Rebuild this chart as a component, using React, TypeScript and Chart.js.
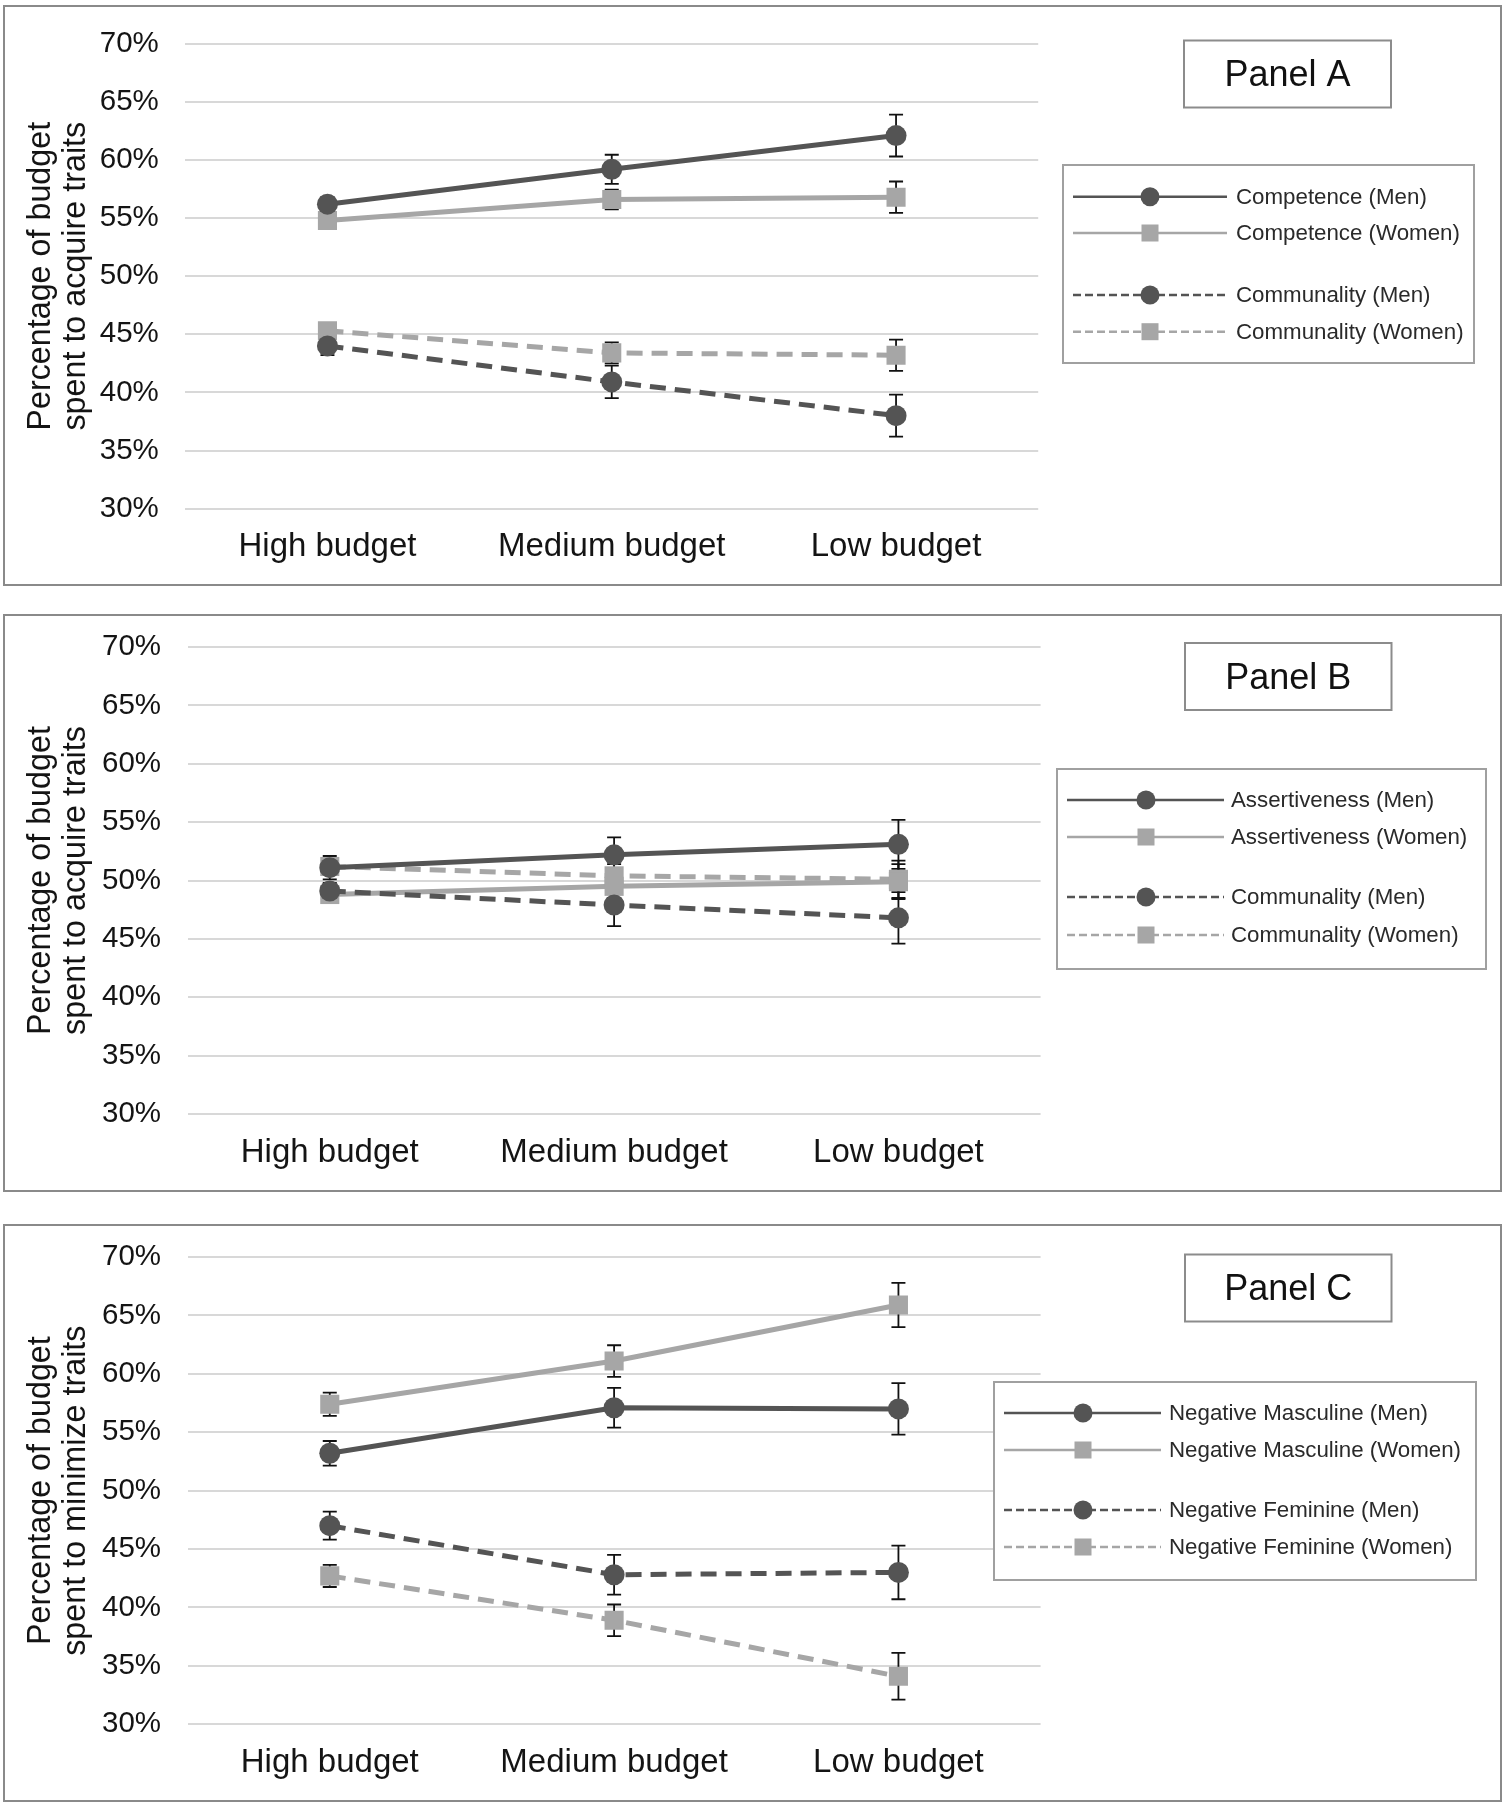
import { useEffect, useRef } from 'react';
import { Chart, registerables } from 'chart.js';

Chart.register(...registerables);

// ---------- data ----------
const categories = ['High budget', 'Medium budget', 'Low budget'];
const yMin = 30;
const yMax = 70;
const yStep = 5;

// Panel A
const panelATitle = 'Panel A';
const panelAYTitle = ['Percentage of budget', 'spent to acquire traits'];
const panelALabels = ['Competence (Men)', 'Competence (Women)', 'Communality (Men)', 'Communality (Women)'];
const competenceMen = [56.2, 59.2, 62.1];
const competenceMenErr = [0.6, 1.25, 1.8];
const competenceWomen = [54.8, 56.6, 56.8];
const competenceWomenErr = [0.5, 0.85, 1.35];
const communalityMenA = [44.0, 40.9, 38.0];
const communalityMenAErr = [0.8, 1.4, 1.8];
const communalityWomenA = [45.3, 43.4, 43.2];
const communalityWomenAErr = [0.6, 0.9, 1.35];

// Panel B
const panelBTitle = 'Panel B';
const panelBYTitle = ['Percentage of budget', 'spent to acquire traits'];
const panelBLabels = ['Assertiveness (Men)', 'Assertiveness (Women)', 'Communality (Men)', 'Communality (Women)'];
const assertivenessMen = [51.1, 52.2, 53.1];
const assertivenessMenErr = [1.0, 1.5, 2.1];
const assertivenessWomen = [48.8, 49.5, 49.9];
const assertivenessWomenErr = [0.6, 1.0, 1.5];
const communalityMenB = [49.1, 47.9, 46.8];
const communalityMenBErr = [0.7, 1.8, 2.2];
const communalityWomenB = [51.2, 50.4, 50.1];
const communalityWomenBErr = [0.6, 1.0, 1.6];

// Panel C
const panelCTitle = 'Panel C';
const panelCYTitle = ['Percentage of budget', 'spent to minimize traits'];
const panelCLabels = ['Negative Masculine (Men)', 'Negative Masculine (Women)', 'Negative Feminine (Men)', 'Negative Feminine (Women)'];
const negMascMen = [53.2, 57.1, 57.0];
const negMascMenErr = [1.05, 1.7, 2.2];
const negMascWomen = [57.4, 61.1, 65.9];
const negMascWomenErr = [1.0, 1.35, 1.9];
const negFemMen = [47.0, 42.8, 43.0];
const negFemMenErr = [1.2, 1.7, 2.3];
const negFemWomen = [42.7, 38.9, 34.1];
const negFemWomenErr = [0.95, 1.35, 2.0];

// ---------- styles ----------
const FONT = '"Liberation Sans", Arial, Helvetica, sans-serif';
const DARK = '#545454';
const LIGHT = '#a6a6a6';

type SeriesDef = { label: string; data: number[]; err: number[]; dark: boolean; dashed: boolean };

type PanelDef = {
  top: number;
  height: number;
  area: { left: number; right: number; top: number; bottom: number };
  title: string;
  yTitle: string[];
  series: SeriesDef[];
  labelBox: { x: number; y: number; w: number; h: number };
  legend: { x: number; y: number; w: number; h: number; rows: number[]; lineX0: number; lineX1: number; markX: number; textX: number };
};

const makeSeries = (labels: string[], vals: number[][], errs: number[][]): SeriesDef[] =>
  labels.map((l, i) => ({ label: l, data: vals[i], err: errs[i], dark: i % 2 === 0, dashed: i >= 2 }));

const panels: PanelDef[] = [
  {
    top: 5,
    height: 581,
    area: { left: 182.3, right: 1035.2, top: 38.8, bottom: 503.6 },
    title: panelATitle,
    yTitle: panelAYTitle,
    series: makeSeries(panelALabels, [competenceMen, competenceWomen, communalityMenA, communalityWomenA], [competenceMenErr, competenceWomenErr, communalityMenAErr, communalityWomenAErr]),
    labelBox: { x: 1181, y: 35.5, w: 207, h: 67 },
    legend: { x: 1060, y: 160, w: 411, h: 198, rows: [191.7, 228, 290, 326.7], lineX0: 1070, lineX1: 1224, markX: 1147, textX: 1233 },
  },
  {
    top: 614,
    height: 578,
    area: { left: 184.6, right: 1037.6, top: 33, bottom: 500 },
    title: panelBTitle,
    yTitle: panelBYTitle,
    series: makeSeries(panelBLabels, [assertivenessMen, assertivenessWomen, communalityMenB, communalityWomenB], [assertivenessMenErr, assertivenessWomenErr, communalityMenBErr, communalityWomenBErr]),
    labelBox: { x: 1182, y: 29, w: 206.5, h: 67 },
    legend: { x: 1054, y: 155, w: 429, h: 200, rows: [186, 223, 283, 321], lineX0: 1064, lineX1: 1221, markX: 1143, textX: 1228 },
  },
  {
    top: 1224,
    height: 578,
    area: { left: 184.6, right: 1037.6, top: 33.1, bottom: 500.2 },
    title: panelCTitle,
    yTitle: panelCYTitle,
    series: makeSeries(panelCLabels, [negMascMen, negMascWomen, negFemMen, negFemWomen], [negMascMenErr, negMascWomenErr, negFemMenErr, negFemWomenErr]),
    labelBox: { x: 1182, y: 30.5, w: 206.5, h: 67 },
    legend: { x: 991, y: 158, w: 482, h: 198, rows: [189, 226, 286, 323], lineX0: 1001, lineX1: 1158, markX: 1080, textX: 1166 },
  },
];

const PANEL_LEFT = 3;
const PANEL_WIDTH = 1499;

function Panel({ def }: { def: PanelDef }) {
  const ref = useRef<HTMLCanvasElement | null>(null);

  useEffect(() => {
    const canvas = ref.current;
    if (!canvas) return;
    const { area } = def;

    const errorBars = {
      id: 'errorBars',
      beforeDatasetsDraw(chart: any) {
        const ctx = chart.ctx;
        const ys = chart.scales.y;
        ctx.save();
        ctx.strokeStyle = '#111';
        ctx.lineWidth = 1.8;
        def.series.forEach((s, i) => {
          const meta = chart.getDatasetMeta(i);
          s.data.forEach((v, j) => {
            const pt = meta.data[j];
            if (!pt) return;
            const x = pt.x;
            const y0 = ys.getPixelForValue(v + s.err[j]);
            const y1 = ys.getPixelForValue(v - s.err[j]);
            ctx.beginPath();
            ctx.moveTo(x, y0);
            ctx.lineTo(x, y1);
            ctx.moveTo(x - 7, y0);
            ctx.lineTo(x + 7, y0);
            ctx.moveTo(x - 7, y1);
            ctx.lineTo(x + 7, y1);
            ctx.stroke();
          });
        });
        ctx.restore();
      },
    };

    const overlay = {
      id: 'overlay',
      afterDraw(chart: any) {
        const ctx = chart.ctx;
        ctx.save();
        // panel label box
        const b = def.labelBox;
        ctx.fillStyle = '#fff';
        ctx.fillRect(b.x, b.y, b.w, b.h);
        ctx.strokeStyle = '#8c8c8c';
        ctx.lineWidth = 2;
        ctx.strokeRect(b.x, b.y, b.w, b.h);
        ctx.fillStyle = '#111';
        ctx.font = `36px ${FONT}`;
        ctx.textAlign = 'center';
        ctx.textBaseline = 'middle';
        ctx.fillText(def.title, b.x + b.w / 2, b.y + b.h / 2 + 2.5);

        // legend
        const L = def.legend;
        ctx.fillStyle = '#fff';
        ctx.fillRect(L.x, L.y, L.w, L.h);
        ctx.strokeStyle = '#a0a0a0';
        ctx.lineWidth = 2;
        ctx.strokeRect(L.x, L.y, L.w, L.h);
        ctx.font = `22.3px ${FONT}`;
        ctx.textAlign = 'left';
        ctx.textBaseline = 'middle';
        chart.data.datasets.forEach((ds: any, i: number) => {
          const y = L.rows[i];
          const col = ds.borderColor;
          ctx.strokeStyle = col;
          ctx.lineWidth = 2.5;
          ctx.setLineDash(ds.borderDash && ds.borderDash.length ? [8, 4] : []);
          ctx.beginPath();
          ctx.moveTo(L.lineX0, y);
          ctx.lineTo(L.lineX1, y);
          ctx.stroke();
          ctx.setLineDash([]);
          ctx.fillStyle = col;
          if (ds.pointStyle === 'circle') {
            ctx.beginPath();
            ctx.arc(L.markX, y, 9.5, 0, Math.PI * 2);
            ctx.fill();
          } else {
            ctx.fillRect(L.markX - 8.5, y - 8.5, 17, 17);
          }
          ctx.fillStyle = '#2a2a2a';
          ctx.fillText(ds.label, L.textX, y + 1);
        });
        ctx.restore();
      },
    };

    const chart = new Chart(canvas, {
      type: 'line',
      data: {
        labels: categories,
        datasets: def.series.map((s) => {
          const col = s.dark ? DARK : LIGHT;
          return {
            label: s.label,
            data: s.data,
            borderColor: col,
            backgroundColor: col,
            borderWidth: 5,
            borderDash: s.dashed ? [16, 9] : [],
            borderCapStyle: 'butt',
            pointStyle: s.dark ? 'circle' : 'rect',
            pointRadius: s.dark ? 10.5 : 13.5,
            pointHoverRadius: s.dark ? 10.5 : 13.5,
            pointBorderWidth: 0,
            pointBackgroundColor: col,
            pointBorderColor: col,
            tension: 0,
            fill: false,
            order: s.dark ? 0 : 1,
          } as any;
        }),
      },
      options: {
        animation: false,
        responsive: false,
        devicePixelRatio: 1,
        events: [],
        layout: {
          padding: { left: 0, top: area.top, right: PANEL_WIDTH - area.right, bottom: 0 },
        },
        plugins: {
          legend: { display: false },
          tooltip: { enabled: false },
          title: { display: false },
        },
        scales: {
          x: {
            type: 'category',
            offset: true,
            grid: { display: false, drawTicks: false },
            border: { display: false },
            ticks: {
              font: { family: FONT, size: 33, lineHeight: 1.2 },
              color: '#141414',
              padding: 19,
              autoSkip: false,
              maxRotation: 0,
            },
            afterFit: (s: any) => {
              s.height = def.height - area.bottom;
            },
          },
          y: {
            type: 'linear',
            min: yMin,
            max: yMax,
            grid: { color: '#d8d8d8', lineWidth: 2, drawTicks: true, tickLength: 24, tickColor: 'rgba(0,0,0,0)' },
            border: { display: false },
            ticks: {
              stepSize: yStep,
              font: { family: FONT, size: 29.5, lineHeight: 1.2 },
              color: '#141414',
              padding: 2.5,
              callback: (v: any) => `${v}%`,
            },
            title: {
              display: true,
              text: def.yTitle,
              font: { family: FONT, size: 32.3, lineHeight: 1.08 },
              color: '#141414',
              padding: { top: 21, bottom: 0 },
            },
            afterFit: (s: any) => {
              s.width = area.left;
            },
          },
        },
      } as any,
      plugins: [errorBars, overlay],
    });

    return () => {
      chart.destroy();
    };
  }, [def]);

  return (
    <div
      style={{
        position: 'absolute',
        left: PANEL_LEFT,
        top: def.top,
        width: PANEL_WIDTH,
        height: def.height,
        background: '#fff',
      }}
    >
      <canvas
        ref={ref}
        width={PANEL_WIDTH}
        height={def.height}
        style={{ position: 'absolute', left: 0, top: 0, width: PANEL_WIDTH, height: def.height }}
      />
      <div
        style={{
          position: 'absolute',
          left: 0,
          top: 0,
          right: 0,
          bottom: 0,
          border: '2px solid #8a8a8a',
          pointerEvents: 'none',
        }}
      />
    </div>
  );
}

export default function App() {
  return (
    <div style={{ position: 'absolute', left: 0, top: 0, width: 1505, height: 1805, background: '#fff', overflow: 'hidden' }}>
      {panels.map((p, i) => (
        <Panel key={i} def={p} />
      ))}
    </div>
  );
}
